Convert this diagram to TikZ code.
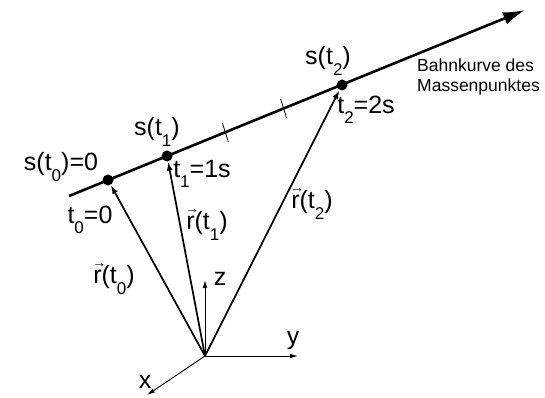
\documentclass[tikz,border=0pt]{standalone}
\usepackage{fontspec}
\setmainfont{Liberation Sans}
\usepackage{tikz}
\usetikzlibrary{arrows.meta,calc}

\newcommand{\ix}[1]{\raisebox{-0.42em}{\fontsize{17}{17}\selectfont #1}}
\newcommand{\vr}{\makebox[0pt][l]{\raisebox{0.66em}{\fontsize{14}{14}\selectfont\kern-1pt →}}r}

\begin{document}
\begin{tikzpicture}[
  x=1pt, y=-1pt,
  dot/.style={circle, fill, inner sep=0pt, minimum size=11pt},
  bahn/.style={line width=2.6pt, -{Latex[length=22pt, width=13pt]}},
  vec/.style={line width=1.7pt, -{Latex[length=9pt, width=6pt]}},
  axis/.style={line width=0.9pt, -{Latex[length=8pt, width=4.5pt]}},
  lbl/.style={font=\fontsize{25}{27}\selectfont, inner sep=0pt},
  note/.style={font=\fontsize{17.5}{20}\selectfont, align=left, inner sep=0pt},
]
  \useasboundingbox (0,0) rectangle (545,398);

  % Bahnkurve und Punkte
  \coordinate (bs) at (69,196);
  \coordinate (be) at (525,10);
  \draw[bahn] (bs) -- (be);
  \node[dot] (p0) at (108,180) {};
  \node[dot] (p1) at (167,156) {};
  \node[dot] (p2) at (342,85) {};
  \foreach \f in {1/3,2/3}
    \draw[line width=0.8pt] ($(p1)!\f!(p2)$) ++(-3,-9.5) -- ++(6,19);

  % Koordinatensystem
  \coordinate (o) at (205,356);
  \coordinate (ez) at (205,280);
  \coordinate (ey) at (298,356);
  \coordinate (ex) at (147,395);
  \draw[axis] (o) -- (ez);
  \draw[axis] (o) -- (ey);
  \draw[axis] (o) -- (ex);

  % Ortsvektoren
  \draw[vec] (o) -- (p0);
  \draw[vec] (o) -- (p1);
  \draw[vec] (o) -- (p2);

  % Beschriftung
  \node[lbl] (ls0) at (61,167) {s(t\ix{0})=0};
  \node[lbl] (ls1) at (157,132) {s(t\ix{1})};
  \node[lbl] (ls2) at (328,61) {s(t\ix{2})};
  \node[lbl] (lt0) at (90,220) {t\ix{0}=0};
  \node[lbl] (lt1) at (202,174) {t\ix{1}=1s};
  \node[lbl] (lt2) at (366,110) {t\ix{2}=2s};
  \node[lbl] (lr0) at (114,279) {\vr(t\ix{0})};
  \node[lbl] (lr1) at (207,225) {\vr(t\ix{1})};
  \node[lbl] (lr2) at (312,204) {\vr(t\ix{2})};
  \node[lbl] (lz) at (220,279) {z};
  \node[lbl] (ly) at (293,340) {y};
  \node[lbl] (lx) at (145,382) {x};
  \node[note, anchor=north west] (bk) at (417,59) {Bahnkurve des\\Massenpunktes};
\end{tikzpicture}
\end{document}
